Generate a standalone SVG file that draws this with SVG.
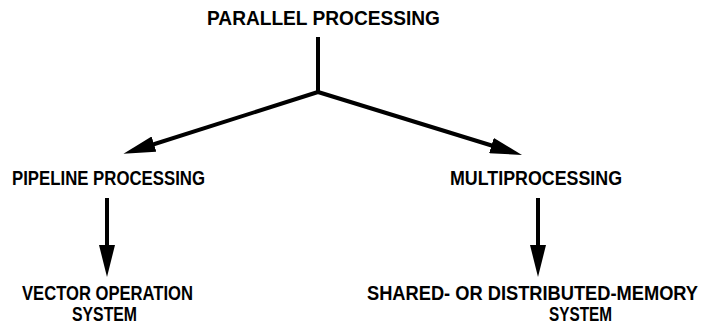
<svg xmlns="http://www.w3.org/2000/svg" width="703" height="325" viewBox="0 0 703 325">
<style>
text{font-family:"Liberation Sans",Arial,sans-serif;font-weight:bold;font-size:21px;fill:#000}
.c{stroke:#000;stroke-width:4;fill:none}
.h{stroke:none;fill:none;marker-end:url(#ah)}
</style>
<defs>
<marker id="ah" markerUnits="userSpaceOnUse" markerWidth="34" markerHeight="16" refX="32" refY="8" orient="auto" viewBox="0 0 34 16">
<path d="M0,0 L32,8 L0,16 z" fill="#000"/>
</marker>
</defs>
<rect width="703" height="325" fill="#fff"/>
<g id="connectors">
<line class="c" x1="318" y1="37" x2="318" y2="93"/>
<line class="c" x1="318" y1="92" x2="142" y2="148"/>
<line class="c" x1="318" y1="92" x2="503" y2="149"/>
<line class="h" x1="318" y1="92" x2="123.5" y2="153.8"/>
<line class="h" x1="318" y1="92" x2="522" y2="155"/>
<line class="c" x1="107" y1="198" x2="107" y2="255"/>
<line class="h" x1="107" y1="198" x2="107" y2="277"/>
<line class="c" x1="538" y1="198" x2="538" y2="255"/>
<line class="h" x1="538" y1="198" x2="538" y2="277"/>
</g>
<g id="parallel"><text x="207" y="25" textLength="233" lengthAdjust="spacingAndGlyphs">PARALLEL PROCESSING</text></g>
<g id="pipeline"><text x="12" y="185" textLength="193" lengthAdjust="spacingAndGlyphs">PIPELINE PROCESSING</text></g>
<g id="multi"><text x="450" y="185" textLength="172" lengthAdjust="spacingAndGlyphs">MULTIPROCESSING</text></g>
<g id="vector"><text x="22" y="300" textLength="171" lengthAdjust="spacingAndGlyphs">VECTOR OPERATION</text><text x="72" y="321" textLength="65" lengthAdjust="spacingAndGlyphs">SYSTEM</text></g>
<g id="shared"><text transform="translate(367,300) scale(0.87,1)" x="0" y="0">SHARED- OR DISTRIBUTED-MEMORY</text><text x="549" y="321" textLength="63" lengthAdjust="spacingAndGlyphs">SYSTEM</text></g>
</svg>
